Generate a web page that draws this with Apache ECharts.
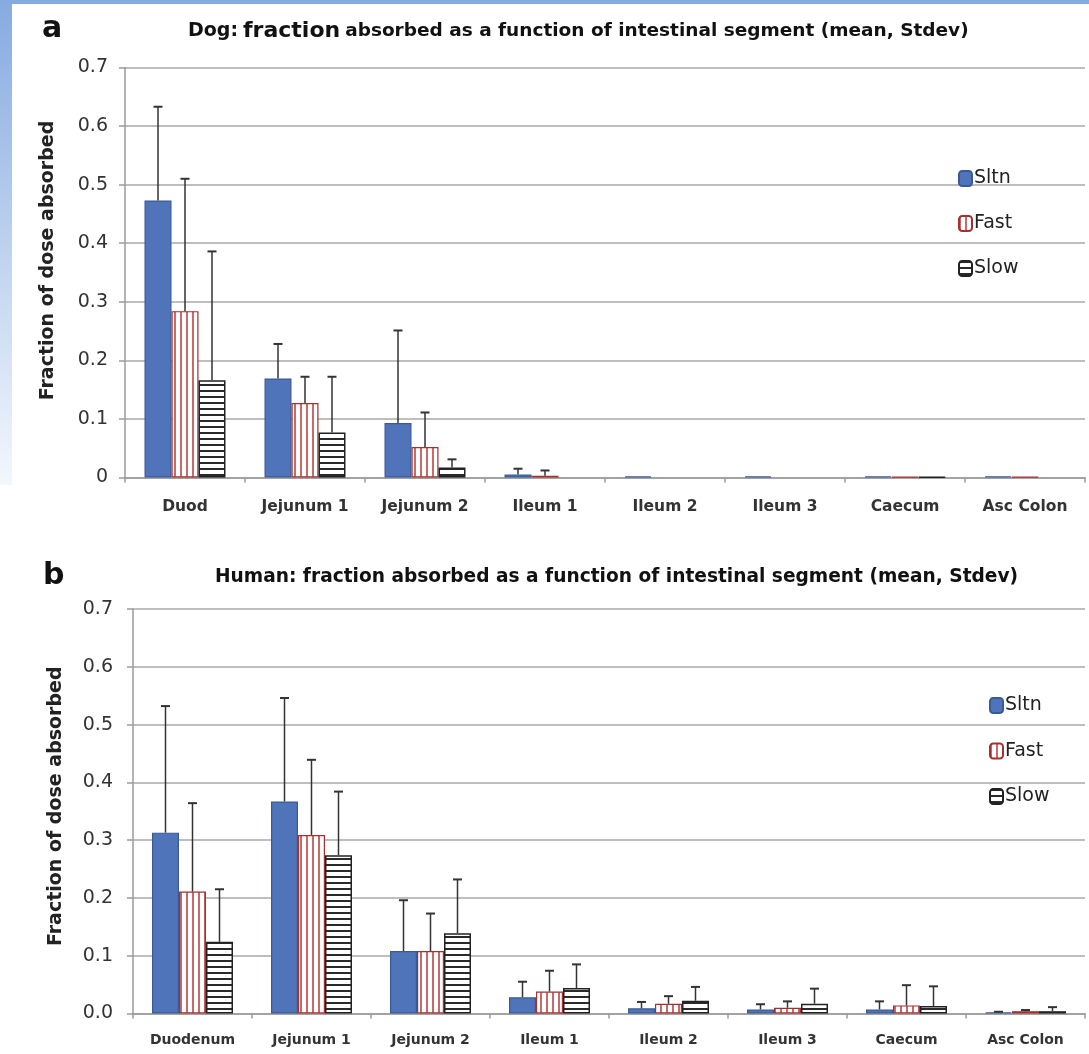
<!DOCTYPE html>
<html>
<head>
<meta charset="utf-8">
<script src="https://cdn.jsdelivr.net/npm/echarts@6/dist/echarts.min.js"></script>
<style>
html,body{margin:0;padding:0;background:#fff;}
#chart{width:1089px;height:1054px;}
</style>
</head>
<body>
<div id="chart"></div>
<script>
// ---------- DATA ----------
const seriesNames = ['Sltn', 'Fast', 'Slow'];
const dogCategories = ['Duod', 'Jejunum 1', 'Jejunum 2', 'Ileum 1', 'Ileum 2', 'Ileum 3', 'Caecum', 'Asc Colon'];
const humanCategories = ['Duodenum', 'Jejunum 1', 'Jejunum 2', 'Ileum 1', 'Ileum 2', 'Ileum 3', 'Caecum', 'Asc Colon'];

const dogSltnMean = [0.473, 0.169, 0.093, 0.005, 0.002, 0.002, 0.002, 0.002];
const dogSltnSd   = [0.160, 0.059, 0.158, 0.010, 0, 0, 0, 0];
const dogFastMean = [0.284, 0.127, 0.052, 0.003, 0, 0, 0.001, 0.001];
const dogFastSd   = [0.226, 0.045, 0.059, 0.009, 0, 0, 0, 0];
const dogSlowMean = [0.166, 0.077, 0.017, 0, 0, 0, 0.001, 0];
const dogSlowSd   = [0.220, 0.095, 0.014, 0, 0, 0, 0, 0];

const humSltnMean = [0.313, 0.367, 0.108, 0.028, 0.009, 0.007, 0.007, 0.002];
const humSltnSd   = [0.219, 0.179, 0.088, 0.027, 0.011, 0.009, 0.014, 0.001];
const humFastMean = [0.211, 0.309, 0.108, 0.038, 0.017, 0.010, 0.014, 0.004];
const humFastSd   = [0.153, 0.130, 0.065, 0.036, 0.013, 0.011, 0.035, 0.002];
const humSlowMean = [0.124, 0.274, 0.139, 0.044, 0.022, 0.017, 0.013, 0.004];
const humSlowSd   = [0.091, 0.110, 0.093, 0.041, 0.024, 0.026, 0.034, 0.007];

const yTicks = [0, 0.1, 0.2, 0.3, 0.4, 0.5, 0.6, 0.7];

// ---------- STYLE ----------
function stripes(vertical, color, period, lw) {
  const c = document.createElement('canvas');
  c.width = period; c.height = period;
  const ctx = c.getContext('2d');
  ctx.fillStyle = '#fff'; ctx.fillRect(0, 0, period, period);
  ctx.fillStyle = color;
  if (vertical) ctx.fillRect(0, 0, lw, period); else ctx.fillRect(0, 0, period, lw);
  return c;
}
const fastPat = {image: stripes(true, '#c96a68', 6, 2), repeat: 'repeat'};
const slowPat = {image: stripes(false, '#2a2a2a', 6, 2), repeat: 'repeat'};
const styles = {
  Sltn: {color: '#4f74b9', borderColor: '#3a5a95', borderWidth: 1.2},
  Fast: {color: fastPat, borderColor: '#a3312f', borderWidth: 1.2},
  Slow: {color: slowPat, borderColor: '#222', borderWidth: 1.5}
};
const BAR_W = 27;
const FONT = 'DejaVu Sans';

function barSeries(name, data, gi) {
  return {
    type: 'bar', name: name, xAxisIndex: gi, yAxisIndex: gi,
    data: data.map(v => (v === 0 ? '-' : v)), barWidth: BAR_W, barGap: '0%',
    itemStyle: styles[name], z: 2, emphasis: {disabled: true}
  };
}
function errSeries(mean, sd, gi, offset) {
  const d = mean.map((m, i) => [i, m, sd[i]]);
  return {
    type: 'custom', name: 'err' + gi + offset, xAxisIndex: gi, yAxisIndex: gi,
    data: d, z: 5, silent: true,
    renderItem: function (params, api) {
      const s = api.value(2);
      if (!s) return null;
      const base = api.coord([api.value(0), api.value(1)]);
      const top = api.coord([api.value(0), api.value(1) + s]);
      const x = base[0] + offset * BAR_W;
      const st = {stroke: '#333', lineWidth: 1.5};
      return {type: 'group', children: [
        {type: 'line', shape: {x1: x, y1: base[1], x2: x, y2: top[1]}, style: st},
        {type: 'line', shape: {x1: x - 4.5, y1: top[1], x2: x + 4.5, y2: top[1]}, style: {stroke: '#333', lineWidth: 2}}
      ]};
    }
  };
}

function xAxis(cats, gi, margin, fs) {
  return {
    type: 'category', data: cats, gridIndex: gi,
    axisLine: {lineStyle: {color: '#9a9a9a', width: 1.5}},
    axisTick: {show: true, length: 5, lineStyle: {color: '#9a9a9a', width: 1.5}},
    axisLabel: {interval: 0, fontFamily: FONT, fontWeight: 'bold', fontSize: fs, color: '#333', margin: margin},
    splitLine: {show: false}
  };
}
function yAxis(gi, zeroLabel, margin, shift) {
  return {
    type: 'value', gridIndex: gi, min: 0, max: 0.7, interval: 0.1,
    name: 'Fraction of dose absorbed', nameLocation: 'middle', nameGap: 67,
    nameTextStyle: {fontFamily: FONT, fontWeight: 'bold', fontSize: 19, color: '#222', padding: [0, 0, 0, shift]},
    axisLine: {show: true, lineStyle: {color: '#9a9a9a', width: 1.5}},
    axisTick: {show: true, length: 6, lineStyle: {color: '#9a9a9a', width: 1.5}},
    axisLabel: {fontFamily: FONT, fontSize: 19, color: '#333', margin: margin,
      formatter: v => (Math.abs(v) < 1e-9 ? zeroLabel : yTicks.find(t => Math.abs(t - v) < 1e-9).toFixed(1))},
    splitLine: {show: true, lineStyle: {color: '#a8a8a8', width: 1.5}}
  };
}

const chart = echarts.init(document.getElementById('chart'), null, {renderer: 'canvas'});
chart.setOption({
  backgroundColor: '#fff',
  animation: false,
  graphic: [
    {type: 'rect', left: 0, top: 0, shape: {width: 12, height: 485}, z: -10,
     style: {fill: new echarts.graphic.LinearGradient(0, 0, 0, 1, [{offset: 0, color: '#86abe0'}, {offset: 1, color: '#f3f7fd'}])}},
    {type: 'rect', left: 0, top: 0, shape: {width: 1089, height: 4}, z: -10, style: {fill: '#86abe0'}}
  ],
  title: [
    {text: 'a', left: 42, top: 14, padding: 0, textStyle: {fontFamily: FONT, fontWeight: 'bold', fontSize: 30, color: '#111'}},
    {text: 'b', left: 43, top: 561, padding: 0, textStyle: {fontFamily: FONT, fontWeight: 'bold', fontSize: 30, color: '#111'}},
    {text: '{m|Dog:} {b|fraction} {s|absorbed as a function of intestinal segment (mean, Stdev)}', left: 188, top: 20, padding: 0,
     textStyle: {rich: {
       m: {fontFamily: FONT, fontWeight: 'bold', fontSize: 19, color: '#111'},
       b: {fontFamily: FONT, fontWeight: 'bold', fontSize: 22, color: '#111'},
       s: {fontFamily: FONT, fontWeight: 'bold', fontSize: 18.5, color: '#111'}}}},
    {text: 'Human: fraction absorbed as a function of intestinal segment (mean, Stdev)', left: 215, top: 568, padding: 0,
     textStyle: {fontFamily: FONT, fontWeight: 'bold', fontSize: 18.6, color: '#111'}}
  ],
  legend: [
    {data: seriesNames, orient: 'vertical', left: 953, top: 164, itemWidth: 13, itemHeight: 15, itemGap: 26,
     textStyle: {fontFamily: FONT, fontSize: 19, color: '#222', padding: [0, 0, 0, -3]}, selectedMode: false},
    {data: seriesNames, orient: 'vertical', left: 984, top: 691, itemWidth: 13, itemHeight: 15, itemGap: 26.5,
     textStyle: {fontFamily: FONT, fontSize: 19, color: '#222', padding: [0, 0, 0, -3]}, selectedMode: false}
  ],
  grid: [
    {left: 125, right: 4, top: 67.5, height: 410},
    {left: 133, right: 4, top: 609, height: 404.5}
  ],
  xAxis: [xAxis(dogCategories, 0, 21, 15.5), xAxis(humanCategories, 1, 20, 14)],
  yAxis: [yAxis(0, '0', 17, 24), yAxis(1, '0.0', 20, 10)],
  series: [
    barSeries('Sltn', dogSltnMean, 0),
    barSeries('Fast', dogFastMean, 0),
    barSeries('Slow', dogSlowMean, 0),
    barSeries('Sltn', humSltnMean, 1),
    barSeries('Fast', humFastMean, 1),
    barSeries('Slow', humSlowMean, 1),
    errSeries(dogSltnMean, dogSltnSd, 0, -1),
    errSeries(dogFastMean, dogFastSd, 0, 0),
    errSeries(dogSlowMean, dogSlowSd, 0, 1),
    errSeries(humSltnMean, humSltnSd, 1, -1),
    errSeries(humFastMean, humFastSd, 1, 0),
    errSeries(humSlowMean, humSlowSd, 1, 1)
  ]
});
</script>
</body>
</html>
